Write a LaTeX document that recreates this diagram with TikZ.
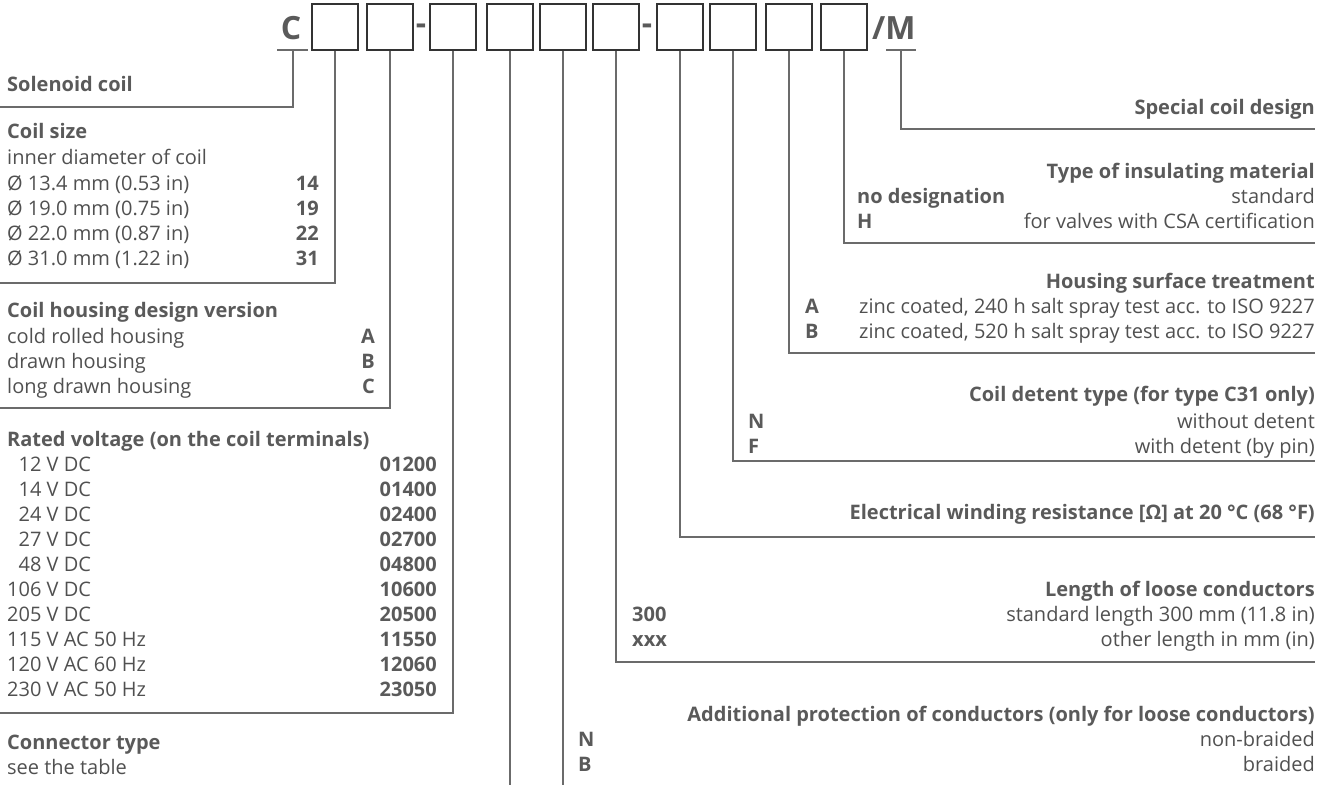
\documentclass[tikz,border=0pt]{standalone}
\usepackage{fontspec}
\setmainfont{Open Sans}
\usepackage{xcolor}
\definecolor{Ink}{HTML}{505050}
\definecolor{Head}{HTML}{5A5A5A}
\definecolor{Wire}{HTML}{6B6B6B}
\definecolor{Frame}{HTML}{333333}
\usetikzlibrary{positioning}
\tikzset{
  slot/.style={draw=Frame,line width=1.2pt,minimum width=46pt,minimum height=46pt,inner sep=0pt},
  lettr/.style={font=\fontsize{32}{32}\selectfont\bfseries,text=Head,inner sep=0pt},
  title/.style={font=\fontsize{20}{25}\selectfont\bfseries,text=Head,inner sep=0pt,
    text height=13.5pt,text depth=0pt},
  txt/.style={font=\fontsize{20}{25}\selectfont,text=Ink,inner sep=0pt,
    text height=13.5pt,text depth=0pt},
  code/.style={title},
  lead/.style={draw=Wire,line width=1.1pt}
}

\begin{document}
\begin{tikzpicture}[x=1pt,y=-1pt]
  \useasboundingbox (0,0) rectangle (1328,785);
  % type key
  \node[lettr] (c) at (291,28) {C};
  \node[slot] (b1) at (335,27) {};
  \node[slot] (b2) at (390,27) {};
  \node[lettr] (d1) at (421,29) {-};
  \node[slot] (b3) at (453,27) {};
  \node[slot] (b4) at (510,27) {};
  \node[slot] (b5) at (563,27) {};
  \node[slot] (b6) at (616,27) {};
  \node[lettr] (d2) at (647,29) {-};
  \node[slot] (b7) at (680,27) {};
  \node[slot] (b8) at (733,27) {};
  \node[slot] (b9) at (789,27) {};
  \node[slot] (b10) at (844,27) {};
  \node[lettr, anchor=west] (m) at (872,28) {/M};
  \coordinate (cu) at (293,50);
  \coordinate (mu) at (901,50);
  \coordinate (bot) at (0,785);

  % left column
  \node[title, anchor=west] (solenoid) at (7,85) {Solenoid coil};
  \node[title, anchor=west] (size) at (7,132) {Coil size};
  \node[txt, anchor=west] (size-sub) at (7,158) {inner diameter of coil};
  \node[txt, anchor=west] (size-r1) at (7,184) {Ø 13.4 mm (0.53 in)};
  \node[txt, anchor=west] (size-r2) at (7,209) {Ø 19.0 mm (0.75 in)};
  \node[txt, anchor=west] (size-r3) at (7,234) {Ø 22.0 mm (0.87 in)};
  \node[txt, anchor=west] (size-r4) at (7,259) {Ø 31.0 mm (1.22 in)};
  \node[code, anchor=east] (size-c1) at (319,184) {14};
  \node[code, anchor=east] (size-c2) at (319,209) {19};
  \node[code, anchor=east] (size-c3) at (319,234) {22};
  \node[code, anchor=east] (size-c4) at (319,259) {31};

  \node[title, anchor=west] (housing) at (7,311) {Coil housing design version};
  \node[txt, anchor=west] (hous-r1) at (7,337) {cold rolled housing};
  \node[txt, anchor=west] (hous-r2) at (7,362) {drawn housing};
  \node[txt, anchor=west] (hous-r3) at (7,387) {long drawn housing};
  \node[code, anchor=east] (hous-c1) at (375,337) {A};
  \node[code, anchor=east] (hous-c2) at (375,362) {B};
  \node[code, anchor=east] (hous-c3) at (375,387) {C};

  \node[title, anchor=west] (volt) at (7,440) {Rated voltage (on the coil terminals)};
  \node[txt, anchor=west] (volt-r1) at (7,465) {\hphantom{1}12 V DC};
  \node[txt, anchor=west] (volt-r2) at (7,490) {\hphantom{1}14 V DC};
  \node[txt, anchor=west] (volt-r3) at (7,515) {\hphantom{1}24 V DC};
  \node[txt, anchor=west] (volt-r4) at (7,540) {\hphantom{1}27 V DC};
  \node[txt, anchor=west] (volt-r5) at (7,565) {\hphantom{1}48 V DC};
  \node[txt, anchor=west] (volt-r6) at (7,590) {106 V DC};
  \node[txt, anchor=west] (volt-r7) at (7,615) {205 V DC};
  \node[txt, anchor=west] (volt-r8) at (7,640) {115 V AC 50 Hz};
  \node[txt, anchor=west] (volt-r9) at (7,665) {120 V AC 60 Hz};
  \node[txt, anchor=west] (volt-r10) at (7,690) {230 V AC 50 Hz};
  \node[code, anchor=east] (volt-c1) at (437,465) {01200};
  \node[code, anchor=east] (volt-c2) at (437,490) {01400};
  \node[code, anchor=east] (volt-c3) at (437,515) {02400};
  \node[code, anchor=east] (volt-c4) at (437,540) {02700};
  \node[code, anchor=east] (volt-c5) at (437,565) {04800};
  \node[code, anchor=east] (volt-c6) at (437,590) {10600};
  \node[code, anchor=east] (volt-c7) at (437,615) {20500};
  \node[code, anchor=east] (volt-c8) at (437,640) {11550};
  \node[code, anchor=east] (volt-c9) at (437,665) {12060};
  \node[code, anchor=east] (volt-c10) at (437,690) {23050};

  \node[title, anchor=west] (conn) at (7,743) {Connector type};
  \node[txt, anchor=west] (conn-sub) at (7,768) {see the table};

  % right column
  \node[title, anchor=east] (special) at (1315,108) {Special coil design};

  \node[title, anchor=east] (insul) at (1315,172) {Type of insulating material};
  \node[code, anchor=west] (insul-k1) at (857,197) {no designation};
  \node[txt, anchor=east] (insul-v1) at (1315,197) {standard};
  \node[code, anchor=west] (insul-k2) at (857,222) {H};
  \node[txt, anchor=east] (insul-v2) at (1315,222) {for valves with CSA certification};

  \node[title, anchor=east] (surf) at (1315,282) {Housing surface treatment};
  \node[code, anchor=west] (surf-k1) at (805,307) {A};
  \node[txt, anchor=east] (surf-v1) at (1315,307) {zinc coated, 240 h salt spray test acc. to ISO 9227};
  \node[code, anchor=west] (surf-k2) at (805,332) {B};
  \node[txt, anchor=east] (surf-v2) at (1315,332) {zinc coated, 520 h salt spray test acc. to ISO 9227};

  \node[title, anchor=east] (detent) at (1315,395) {Coil detent type (for type C31 only)};
  \node[code, anchor=west] (det-k1) at (748,422) {N};
  \node[txt, anchor=east] (det-v1) at (1315,422) {without detent};
  \node[code, anchor=west] (det-k2) at (748,447) {F};
  \node[txt, anchor=east] (det-v2) at (1315,447) {with detent (by pin)};

  \node[title, anchor=east] (elec) at (1315,513) {Electrical winding resistance [Ω] at 20 °C (68 °F)};

  \node[title, anchor=east] (len) at (1315,590) {Length of loose conductors};
  \node[code, anchor=west] (len-k1) at (632,615) {300};
  \node[txt, anchor=east] (len-v1) at (1315,615) {standard length 300 mm (11.8 in)};
  \node[code, anchor=west] (len-k2) at (632,640) {xxx};
  \node[txt, anchor=east] (len-v2) at (1315,640) {other length in mm (in)};

  \node[title, anchor=east] (prot) at (1315,715) {Additional protection of conductors (only for loose conductors)};
  \node[code, anchor=west] (prot-k1) at (578,740) {N};
  \node[txt, anchor=east] (prot-v1) at (1315,740) {non-braided};
  \node[code, anchor=west] (prot-k2) at (578,765) {B};
  \node[txt, anchor=east] (prot-v2) at (1315,765) {braided};

  % line ends
  \coordinate (l-sol) at (0,107);
  \coordinate (l-size) at (0,283);
  \coordinate (l-hous) at (0,408);
  \coordinate (l-volt) at (0,713);
  \coordinate (r-spec) at (1315,129);
  \coordinate (r-insul) at (1315,243);
  \coordinate (r-surf) at (1315,353);
  \coordinate (r-det) at (1315,461);
  \coordinate (r-elec) at (1315,537);
  \coordinate (r-len) at (1315,662);

  % leaders
  \draw[lead] (277,50) -- (308,50);
  \draw[lead] (886,50) -- (916,50);
  \draw[lead] (cu) |- (l-sol);
  \draw[lead] (b1.south) |- (l-size);
  \draw[lead] (b2.south) |- (l-hous);
  \draw[lead] (b3.south) |- (l-volt);
  \draw[lead] (b4.south) -- (b4.south |- bot);
  \draw[lead] (b5.south) -- (b5.south |- bot);
  \draw[lead] (b6.south) |- (r-len);
  \draw[lead] (b7.south) |- (r-elec);
  \draw[lead] (b8.south) |- (r-det);
  \draw[lead] (b9.south) |- (r-surf);
  \draw[lead] (b10.south) |- (r-insul);
  \draw[lead] (mu) |- (r-spec);
\end{tikzpicture}
\end{document}
